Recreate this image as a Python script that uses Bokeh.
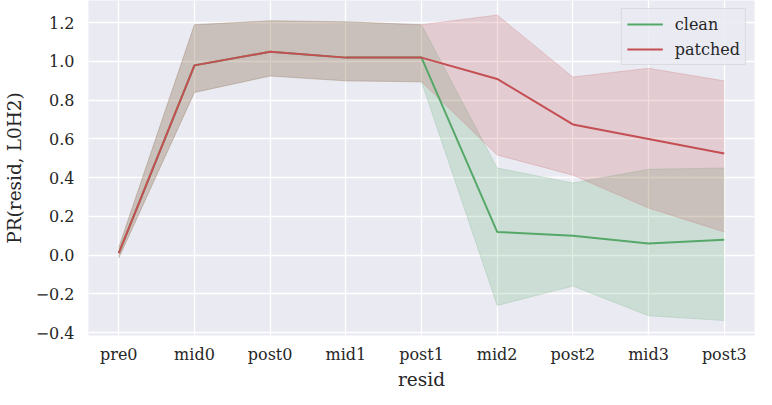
from bokeh.plotting import figure
from bokeh.models import Range1d, FixedTicker, CustomJSTickFormatter, Legend, LegendItem, ColumnDataSource, Title
from bokeh.embed import file_html
from bokeh.resources import INLINE

resid = ["pre0", "mid0", "post0", "mid1", "post1", "mid2", "post2", "mid3", "post3"]

clean_mean = [0.01, 0.98, 1.05, 1.02, 1.02, 0.12, 0.10, 0.06, 0.08]
clean_low = [-0.015, 0.84, 0.925, 0.90, 0.895, -0.26, -0.16, -0.313, -0.338]
clean_high = [0.04, 1.19, 1.21, 1.205, 1.19, 0.45, 0.373, 0.443, 0.45]

patched_mean = [0.01, 0.98, 1.05, 1.02, 1.02, 0.91, 0.675, 0.60, 0.525]
patched_low = [-0.015, 0.84, 0.925, 0.90, 0.895, 0.517, 0.413, 0.243, 0.12]
patched_high = [0.04, 1.19, 1.21, 1.205, 1.19, 1.24, 0.92, 0.965, 0.90]

y_ticks = [-0.4, -0.2, 0.0, 0.2, 0.4, 0.6, 0.8, 1.0, 1.2]

GREEN = "#55A868"
RED = "#C44E52"
FONT = "DejaVu Serif"
TXT = "#262626"

pos = list(range(len(resid)))

p = figure(
    width=756, height=389,
    x_range=Range1d(-0.4, len(resid) - 1 + 0.4),
    y_range=Range1d(-0.415, 1.315),
    output_backend="svg", toolbar_location=None,
    min_border_left=80, min_border_right=2, min_border_top=0, min_border_bottom=0,
)
p.background_fill_color = "#EAEAF2"
p.border_fill_color = "white"
p.outline_line_color = None

src_c = ColumnDataSource(dict(x=pos, y=clean_mean, lo=clean_low, hi=clean_high))
src_p = ColumnDataSource(dict(x=pos, y=patched_mean, lo=patched_low, hi=patched_high))

for src, col in ((src_c, GREEN), (src_p, RED)):
    p.varea(x="x", y1="lo", y2="hi", source=src, fill_color=col, fill_alpha=0.2)
    p.line(x="x", y="lo", source=src, line_color=col, line_alpha=0.2, line_width=1)
    p.line(x="x", y="hi", source=src, line_color=col, line_alpha=0.2, line_width=1)

r_c = p.line(x="x", y="y", source=src_c, line_color=GREEN, line_width=2)
r_p = p.line(x="x", y="y", source=src_p, line_color=RED, line_width=2)

p.grid.grid_line_color = "white"
p.grid.grid_line_width = 1.3
p.xaxis.ticker = FixedTicker(ticks=pos)
p.xaxis.major_label_overrides = {i: name for i, name in enumerate(resid)}
p.yaxis.ticker = FixedTicker(ticks=y_ticks)
p.yaxis.formatter = CustomJSTickFormatter(code="return tick.toFixed(1).replace('-', '\u2212');")

for ax in (p.xaxis, p.yaxis):
    ax.axis_line_color = None
    ax.major_tick_line_color = None
    ax.minor_tick_line_color = None
    ax.major_tick_out = 0
    ax.major_tick_in = 0
    ax.major_label_text_font = FONT
    ax.major_label_text_font_size = "16px"
    ax.major_label_text_color = TXT
    ax.axis_label_text_font = FONT
    ax.axis_label_text_font_size = "18.5px"
    ax.axis_label_text_font_style = "normal"
    ax.axis_label_text_color = TXT

p.xaxis.major_label_standoff = 9
p.yaxis.major_label_standoff = 14
p.yaxis.axis_label = "PR(resid, L0H2)"
p.yaxis.axis_label_standoff = 8

p.add_layout(Title(text="resid", align="center", text_font=FONT, text_font_size="18.5px",
                   text_font_style="normal", text_color=TXT, standoff=0, offset=0), "below")

legend = Legend(items=[LegendItem(label="clean", renderers=[r_c]),
                       LegendItem(label="patched", renderers=[r_p])],
                location="top_right",
                label_text_font=FONT, label_text_font_size="16px",
                label_text_color=TXT)
legend.background_fill_color = "#EAEAF2"
legend.background_fill_alpha = 0.8
legend.border_line_color = "#CCCCCC"
legend.border_line_width = 1
legend.glyph_width = 36
legend.glyph_height = 20
legend.label_standoff = 12
legend.spacing = 5
legend.padding = 5
legend.margin = 8
p.add_layout(legend)

open("out.html", "w").write(file_html(p, INLINE))
